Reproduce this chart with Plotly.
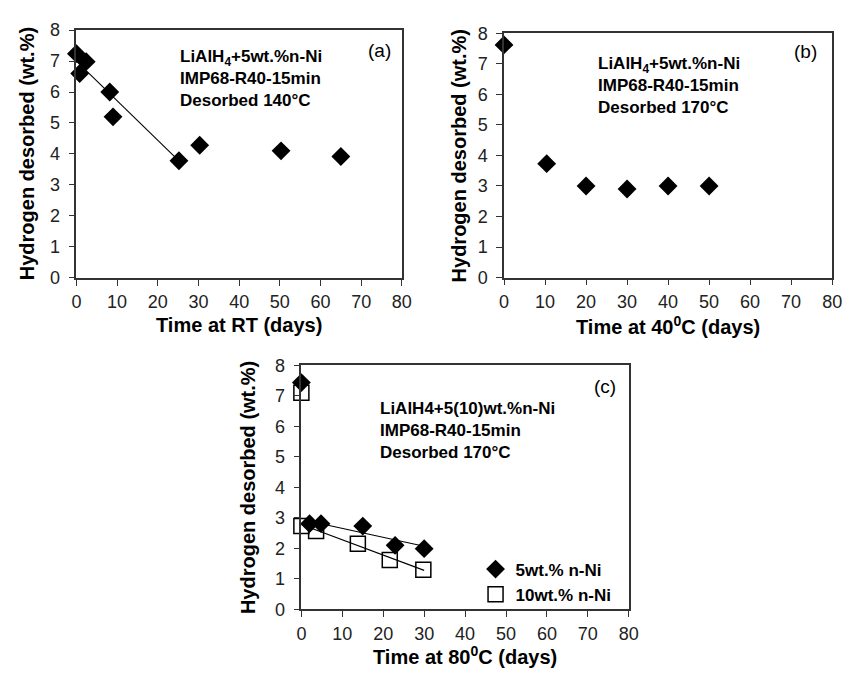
import plotly.graph_objects as go

W, H = 850, 677

# ---------------- data ----------------
# Panel (a): Time at RT
a_days = [0, 2.4, 0.8, 8.2, 9, 25.2, 30.3, 50.3, 65]
a_h2 = [7.24, 6.98, 6.6, 6.0, 5.2, 3.78, 4.28, 4.1, 3.92]
a_fit_days = [0, 25.2]
a_fit_h2 = [7.0, 3.78]

# Panel (b): Time at 40 C
b_days = [0, 10.4, 20, 30, 40, 50]
b_h2 = [7.62, 3.73, 3.0, 2.9, 3.0, 3.0]

# Panel (c): Time at 80 C
c5_days = [0, 2, 4.8, 15, 22.9, 30]
c5_h2 = [7.43, 2.81, 2.81, 2.73, 2.1, 1.99]
c10_days = [0, 0, 3.6, 13.8, 21.6, 29.8]
c10_h2 = [7.1, 2.73, 2.57, 2.15, 1.62, 1.3]
c5_fit_days = [2, 30]
c5_fit_h2 = [2.89, 2.07]
c10_fit_days = [0, 30]
c10_fit_h2 = [2.78, 1.28]

x_ticks = [0, 10, 20, 30, 40, 50, 60, 70, 80]
y_ticks = [0, 1, 2, 3, 4, 5, 6, 7, 8]

FONT = "Liberation Sans, Arial, sans-serif"


def px_x(p):
    return p / W


def px_y(p):
    return 1 - p / H


fig = go.Figure()

dia = dict(symbol="diamond", size=14.5, color="black")
sq = dict(symbol="square-open", size=15, color="black", line=dict(width=1.5, color="black"))
fitline = dict(color="black", width=1.1)

# panel a
fig.add_trace(go.Scatter(x=a_fit_days, y=a_fit_h2, mode="lines", line=fitline,
                         xaxis="x", yaxis="y", showlegend=False, cliponaxis=False))
fig.add_trace(go.Scatter(x=a_days, y=a_h2, mode="markers", marker=dia,
                         xaxis="x", yaxis="y", showlegend=False, cliponaxis=False))
# panel b
fig.add_trace(go.Scatter(x=b_days, y=b_h2, mode="markers", marker=dia,
                         xaxis="x2", yaxis="y2", showlegend=False, cliponaxis=False))
# panel c
fig.add_trace(go.Scatter(x=c10_fit_days, y=c10_fit_h2, mode="lines", line=fitline,
                         xaxis="x3", yaxis="y3", showlegend=False, cliponaxis=False))
fig.add_trace(go.Scatter(x=c5_fit_days, y=c5_fit_h2, mode="lines", line=fitline,
                         xaxis="x3", yaxis="y3", showlegend=False, cliponaxis=False))
fig.add_trace(go.Scatter(x=c10_days, y=c10_h2, mode="markers", marker=sq,
                         name="<b>10wt.% n-Ni</b>",
                         xaxis="x3", yaxis="y3", showlegend=True, cliponaxis=False))
fig.add_trace(go.Scatter(x=c5_days, y=c5_h2, mode="markers", marker=dia,
                         name="<b>5wt.% n-Ni</b>",
                         xaxis="x3", yaxis="y3", showlegend=True, cliponaxis=False))

axis_common = dict(
    showgrid=False, zeroline=False, showline=True, mirror=True,
    linecolor="#333", linewidth=1.5,
    ticks="outside", ticklen=6, tickwidth=1.3, tickcolor="#333",
    tickfont=dict(family=FONT, size=18, color="#222"),
)

xaxis = dict(axis_common, range=[0, 80], tickvals=x_ticks, ticklabelstandoff=1)
yaxis = dict(axis_common, range=[0, 8], tickvals=y_ticks, ticklabelstandoff=5)

layout = dict(
    width=W, height=H,
    margin=dict(l=0, r=0, t=0, b=0),
    paper_bgcolor="white", plot_bgcolor="white",
    font=dict(family=FONT, color="black"),
    xaxis=dict(xaxis, domain=[px_x(72.7), px_x(404)], anchor="y"),
    yaxis=dict(yaxis, domain=[px_y(276), px_y(20.7)], anchor="x"),
    xaxis2=dict(xaxis, domain=[px_x(508), px_x(842)], anchor="y2"),
    yaxis2=dict(yaxis, domain=[px_y(275.7), px_y(24)], anchor="x2"),
    xaxis3=dict(xaxis, domain=[px_x(301.7), px_x(635)], anchor="y3"),
    yaxis3=dict(yaxis, domain=[px_y(617.7), px_y(366)], anchor="x3"),
    showlegend=True,
    legend=dict(
        x=px_x(479), y=px_y(558), xanchor="left", yanchor="top",
        traceorder="reversed", bgcolor="rgba(0,0,0,0)",
        font=dict(family=FONT, size=17, color="black"),
        itemwidth=30, tracegroupgap=0,
    ),
)
fig.update_layout(**layout)

ann = []


def text(x, y, s, size=18, anchor="left", angle=0):
    ann.append(dict(x=px_x(x), y=px_y(y), xref="paper", yref="paper",
                    text=s, showarrow=False, xanchor=anchor, yanchor="middle",
                    align="left", textangle=angle,
                    font=dict(family=FONT, size=size, color="black")))


# panel (a) texts
text(176, 71, "<b>LiAlH<sub>4</sub>+5wt.%n-Ni<br>IMP68-R40-15min<br>Desorbed 140°C</b>", size=17)
text(381, 42, "(a)", size=19, anchor="center")
text(22, 148, "<b>Hydrogen desorbed (wt.%)</b>", size=20, anchor="center", angle=-90)
text(238, 325, "<b>Time at RT (days)</b>", size=20, anchor="center")

# panel (b) texts
text(602, 78, "<b>LiAlH<sub>4</sub>+5wt.%n-Ni<br>IMP68-R40-15min<br>Desorbed 170°C</b>", size=17)
text(815, 43, "(b)", size=19, anchor="center")
text(462, 150, "<b>Hydrogen desorbed (wt.%)</b>", size=20, anchor="center", angle=-90)
text(675, 325, "<b>Time at 40<sup>0</sup>C (days)</b>", size=20, anchor="center")

# panel (c) texts
text(380, 433, "<b>LiAlH4+5(10)wt.%n-Ni<br>IMP68-R40-15min<br>Desorbed 170°C</b>", size=17)
text(611, 388, "(c)", size=19, anchor="center")
text(248, 492, "<b>Hydrogen desorbed (wt.%)</b>", size=20, anchor="center", angle=-90)
text(468, 665, "<b>Time at 80<sup>0</sup>C (days)</b>", size=20, anchor="center")

fig.update_layout(annotations=ann)

fig.write_html("out.html")
